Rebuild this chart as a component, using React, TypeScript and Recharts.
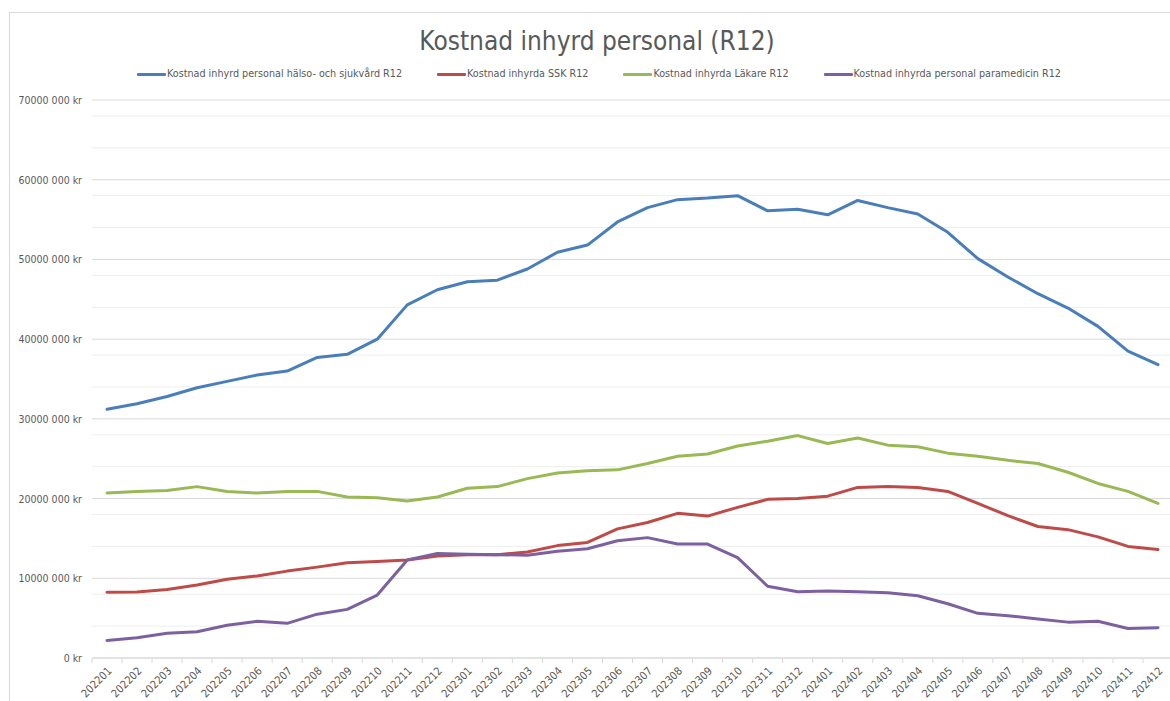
import React from 'react';
import { LineChart, Line, XAxis, YAxis, CartesianGrid } from 'recharts';

const categories = [
  '202201', '202202', '202203', '202204', '202205', '202206', '202207', '202208', '202209', '202210', '202211', '202212',
  '202301', '202302', '202303', '202304', '202305', '202306', '202307', '202308', '202309', '202310', '202311', '202312',
  '202401', '202402', '202403', '202404', '202405', '202406', '202407', '202408', '202409', '202410', '202411', '202412',
];

const halsoSjukvard = [
  31200000, 31900000, 32800000, 33900000, 34700000, 35500000, 36000000, 37700000, 38100000, 40000000, 44300000, 46200000,
  47200000, 47400000, 48800000, 50900000, 51800000, 54700000, 56500000, 57500000, 57700000, 58000000, 56100000, 56300000,
  55600000, 57400000, 56500000, 55700000, 53400000, 50100000, 47800000, 45700000, 43900000, 41600000, 38500000, 36800000,
];

const ssk = [
  8240000, 8280000, 8600000, 9160000, 9870000, 10300000, 10900000, 11400000, 11960000, 12100000, 12300000, 12800000,
  12960000, 12960000, 13300000, 14100000, 14500000, 16200000, 17000000, 18150000, 17800000, 18900000, 19900000, 20000000,
  20300000, 21400000, 21500000, 21400000, 20900000, 19400000, 17850000, 16500000, 16100000, 15200000, 14000000, 13600000,
];

const lakare = [
  20700000, 20900000, 21000000, 21500000, 20900000, 20700000, 20900000, 20900000, 20200000, 20100000, 19700000, 20200000,
  21300000, 21500000, 22500000, 23200000, 23500000, 23600000, 24400000, 25300000, 25600000, 26600000, 27200000, 27900000,
  26900000, 27600000, 26700000, 26500000, 25700000, 25300000, 24800000, 24400000, 23300000, 21900000, 20900000, 19400000,
];

const paramedicin = [
  2200000, 2550000, 3100000, 3300000, 4100000, 4600000, 4350000, 5500000, 6100000, 7900000, 12300000, 13100000,
  13000000, 12960000, 12900000, 13400000, 13700000, 14700000, 15100000, 14300000, 14300000, 12600000, 9000000, 8300000,
  8400000, 8300000, 8200000, 7800000, 6800000, 5600000, 5300000, 4900000, 4500000, 4600000, 3700000, 3800000,
];

const yTickValues = [0, 10000000, 20000000, 30000000, 40000000, 50000000, 60000000, 70000000];
const yTickLabels = ['0 kr', '10000 000 kr', '20000 000 kr', '30000 000 kr', '40000 000 kr', '50000 000 kr', '60000 000 kr', '70000 000 kr'];
const minorGridValues = [
  2000000, 4000000, 6000000, 8000000, 12000000, 14000000, 16000000, 18000000, 22000000, 24000000, 26000000, 28000000,
  32000000, 34000000, 36000000, 38000000, 42000000, 44000000, 46000000, 48000000, 52000000, 54000000, 56000000, 58000000,
  62000000, 64000000, 66000000, 68000000,
];

const seriesNames = [
  'Kostnad inhyrd personal hälso- och sjukvård R12',
  'Kostnad inhyrda SSK R12',
  'Kostnad inhyrda Läkare R12',
  'Kostnad inhyrda personal paramedicin R12',
];
const seriesKeys = ['halso', 'ssk', 'lakare', 'para'];
const seriesColors = ['#4a7ebb', '#be4b48', '#98b954', '#7d60a0'];

const titleText = 'Kostnad inhyrd personal (R12)';

const FONT = '"DejaVu Sans Condensed", "Liberation Sans Narrow", "Liberation Sans", Arial, sans-serif';
const TEXT_COLOR = '#595959';

const data = categories.map((c, i) => ({
  month: c,
  halso: halsoSjukvard[i],
  ssk: ssk[i],
  lakare: lakare[i],
  para: paramedicin[i],
}));

const XTick = (props: any) => {
  const { x, y, payload, index } = props;
  const band = 30;
  const axisY = y - 8;
  const isLast = index === categories.length - 1;
  const ax = x + 3;
  const ay = y + 3;
  return (
    <g>
      <line x1={x - band / 2} x2={x - band / 2} y1={axisY} y2={axisY + 5} stroke="#d9d9d9" strokeWidth={1} />
      {isLast && (
        <line x1={x + band / 2} x2={x + band / 2} y1={axisY} y2={axisY + 5} stroke="#d9d9d9" strokeWidth={1} />
      )}
      <text
        x={ax}
        y={ay}
        textAnchor="end"
        fontSize={11}
        fill={TEXT_COLOR}
        fontFamily={FONT}
        transform={`rotate(-45, ${ax}, ${ay})`}
        dominantBaseline="central"
      >
        {payload.value}
      </text>
    </g>
  );
};

const YTick = (props: any) => {
  const { x, y, payload } = props;
  const idx = yTickValues.indexOf(payload.value);
  return (
    <text
      x={x}
      y={y}
      textAnchor="end"
      dominantBaseline="central"
      fontSize={10.5}
      fill={TEXT_COLOR}
      fontFamily={FONT}
    >
      {idx >= 0 ? yTickLabels[idx] : ''}
    </text>
  );
};

export default function App() {
  return (
    <div
      style={{
        position: 'fixed',
        left: 0,
        top: 0,
        width: 1170,
        height: 701,
        overflow: 'hidden',
        background: '#ffffff',
        fontFamily: FONT,
      }}
    >
      <div
        style={{
          position: 'absolute',
          left: 9,
          top: 12,
          width: 1200,
          height: 720,
          border: '1px solid #d9d9d9',
          boxSizing: 'border-box',
        }}
      />
      <div
        style={{
          position: 'absolute',
          left: 0,
          top: 27,
          width: 1194,
          textAlign: 'center',
          fontSize: 26,
          lineHeight: '28px',
          color: TEXT_COLOR,
          whiteSpace: 'nowrap',
        }}
      >
        {titleText}
      </div>
      <div
        style={{
          position: 'absolute',
          left: 0,
          top: 67,
          width: 1198,
          display: 'flex',
          justifyContent: 'center',
          gap: 35,
          fontSize: 10.7,
          lineHeight: '14px',
          color: TEXT_COLOR,
          whiteSpace: 'nowrap',
        }}
      >
        {seriesNames.map((name, i) => (
          <div key={name} style={{ display: 'flex', alignItems: 'center' }}>
            <span
              style={{
                display: 'inline-block',
                width: 29,
                height: 3,
                background: seriesColors[i],
                marginRight: 1,
                borderRadius: 1,
              }}
            />
            <span>{name}</span>
          </div>
        ))}
      </div>
      <div style={{ position: 'absolute', left: 0, top: 0 }}>
        <LineChart width={1200} height={701} data={data} margin={{ top: 100, right: 27, bottom: 0, left: 7 }}>
          <CartesianGrid vertical={false} horizontalValues={minorGridValues} stroke="#eeeeee" strokeWidth={1} />
          <CartesianGrid vertical={false} horizontalValues={yTickValues} stroke="#d9d9d9" strokeWidth={1} />
          <XAxis
            dataKey="month"
            interval={0}
            height={43}
            padding={{ left: 15, right: 15 }}
            tickLine={false}
            axisLine={{ stroke: '#d9d9d9' }}
            tick={<XTick />}
          />
          <YAxis
            width={85}
            domain={[0, 70000000]}
            ticks={yTickValues}
            axisLine={false}
            tickLine={false}
            tickSize={6}
            tickMargin={4}
            tick={<YTick />}
          />
          {seriesKeys.map((k, i) => (
            <Line
              key={k}
              type="linear"
              dataKey={k}
              name={seriesNames[i]}
              stroke={seriesColors[i]}
              strokeWidth={3}
              dot={false}
              activeDot={false}
              isAnimationActive={false}
              strokeLinejoin="round"
              strokeLinecap="round"
            />
          ))}
        </LineChart>
      </div>
    </div>
  );
}
